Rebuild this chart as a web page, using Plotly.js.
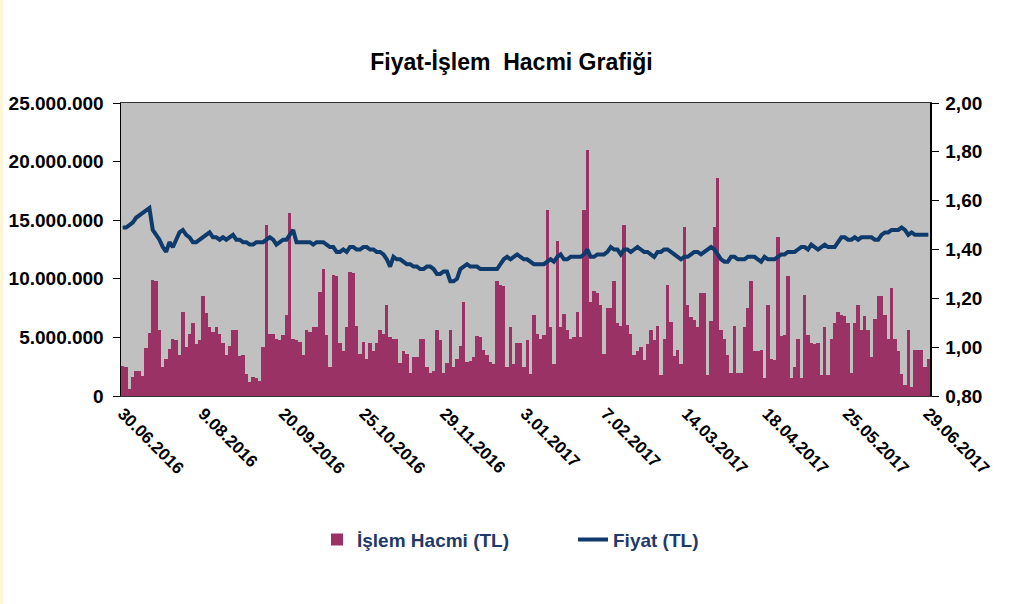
<!DOCTYPE html>
<html>
<head>
<meta charset="utf-8">
<script src="https://cdn.plot.ly/plotly-3.0.1.min.js"></script>
<style>html,body{margin:0;padding:0;background:#fff}#chart{width:1023px;height:604px}</style>
</head>
<body>
<div id="chart"></div>
<script>
// Daily trading volume (million TL)
const volumeMillionTL = [
  2.6,2.5,0.6,1.6,2.1,2.1,1.7,4.1,5.4,9.9,9.8,5.6,2.5,3.2,4.0,4.9,4.8,3.5,7.2,4.2,5.3,6.2,4.4,4.8,8.5,7.1,5.9,5.5,
  5.9,5.3,4.5,3.5,4.3,5.6,5.6,3.4,3.5,1.9,1.2,1.6,1.5,1.3,4.2,14.6,5.3,5.3,4.9,4.8,5.2,6.9,15.6,4.9,4.8,4.6,3.5,5.6,5.5,5.9,
  5.9,8.9,10.8,5.2,2.5,10.3,10.2,4.5,3.8,5.9,10.6,10.5,6.0,3.6,4.6,3.2,4.5,3.8,4.5,5.6,5.3,7.8,5.0,4.9,4.9,2.8,3.8,3.6,2.0,3.3,
  3.3,4.9,4.9,2.5,2.0,2.1,5.6,4.8,2.0,2.8,5.6,2.5,3.2,4.3,8.0,2.9,3.0,3.3,5.1,5.0,3.9,3.5,2.9,2.7,9.8,9.5,9.4,2.5,5.9,2.7,
  4.5,4.5,2.5,4.8,1.9,6.9,5.3,4.9,5.2,15.9,5.9,2.7,13.2,5.9,7.0,5.6,4.9,5.0,7.2,5.0,15.9,21.0,8.0,9.0,8.8,7.8,3.6,7.5,7.5,9.8,
  6.2,6.0,14.6,6.1,5.3,3.5,3.8,4.2,3.1,4.4,5.6,4.8,6.0,1.8,4.9,9.5,6.3,3.4,3.9,2.7,14.4,7.8,6.7,6.5,5.9,8.8,8.8,1.8,6.4,14.4,
  18.6,5.6,4.9,3.5,2.0,6.0,2.0,2.0,5.9,7.5,9.8,3.8,3.8,3.9,1.5,7.8,3.2,3.1,13.6,5.1,5.2,10.2,1.5,2.5,4.9,1.5,8.6,5.2,4.5,4.4,
  4.5,1.8,5.9,1.8,4.9,6.2,7.2,6.9,6.8,6.2,2.0,6.2,7.8,5.6,6.8,5.6,3.3,6.6,8.5,8.5,6.9,4.9,9.2,4.9,3.8,1.9,0.9,5.6,0.8,3.9,3.9,3.9,2.5,3.2
];
// Daily closing price (TL)
const priceTL = [
  1.49,1.49,1.50,1.51,1.53,1.54,1.55,1.56,1.57,1.48,1.46,1.44,1.41,1.39,1.43,1.41,1.44,1.47,1.48,1.46,1.45,1.43,1.43,1.44,1.45,1.46,1.47,1.45,
  1.45,1.44,1.45,1.44,1.45,1.46,1.44,1.44,1.43,1.43,1.42,1.42,1.43,1.43,1.43,1.44,1.45,1.44,1.42,1.43,1.44,1.44,1.46,1.48,1.43,1.43,1.43,1.43,1.43,1.42,
  1.43,1.43,1.43,1.42,1.41,1.41,1.39,1.39,1.40,1.39,1.41,1.41,1.40,1.40,1.41,1.41,1.40,1.40,1.39,1.39,1.38,1.36,1.33,1.37,1.36,1.36,1.35,1.34,1.34,1.33,
  1.33,1.32,1.32,1.33,1.33,1.32,1.30,1.30,1.31,1.31,1.27,1.27,1.28,1.32,1.33,1.34,1.33,1.33,1.33,1.32,1.32,1.32,1.32,1.32,1.32,1.34,1.36,1.37,1.36,1.37,
  1.38,1.37,1.36,1.36,1.35,1.34,1.34,1.34,1.34,1.35,1.36,1.35,1.37,1.38,1.36,1.36,1.37,1.37,1.37,1.37,1.38,1.40,1.37,1.37,1.38,1.38,1.38,1.39,1.41,1.40,
  1.40,1.38,1.40,1.40,1.39,1.40,1.41,1.40,1.39,1.39,1.38,1.37,1.39,1.39,1.40,1.40,1.39,1.38,1.37,1.36,1.37,1.37,1.38,1.39,1.39,1.38,1.39,1.40,1.41,1.40,
  1.38,1.36,1.35,1.35,1.37,1.37,1.36,1.36,1.36,1.37,1.37,1.37,1.36,1.35,1.37,1.36,1.36,1.36,1.37,1.38,1.38,1.39,1.39,1.39,1.40,1.41,1.41,1.40,1.42,1.41,
  1.40,1.41,1.42,1.41,1.41,1.41,1.43,1.45,1.45,1.44,1.44,1.45,1.44,1.45,1.45,1.45,1.45,1.44,1.44,1.46,1.47,1.47,1.48,1.48,1.48,1.49,1.48,1.46,1.47,1.46,1.46,1.46,1.46,1.46
];
const dateTickLabels = ['30.06.2016','9.08.2016','20.09.2016','25.10.2016','29.11.2016','3.01.2017','7.02.2017','14.03.2017','18.04.2017','25.05.2017','29.06.2017'];

const N = volumeMillionTL.length;
const xIdx = volumeMillionTL.map((_, i) => i);
const tickPos = dateTickLabels.map((_, k) => k * (N - 1) / (dateTickLabels.length - 1));

const traces = [
  {
    type: 'bar', name: 'İşlem Hacmi (TL)', x: xIdx,
    y: volumeMillionTL.map(v => v * 1e6),
    marker: {color: '#9B3265', line: {width: 0}},
    hoverinfo: 'skip'
  },
  {
    type: 'scatter', mode: 'lines', name: 'Fiyat (TL)', x: xIdx, y: priceTL, yaxis: 'y2',
    line: {color: '#0E3A6C', width: 4},
    hoverinfo: 'skip'
  }
];

const tickFont = {family: 'Liberation Sans, Arial, sans-serif', size: 19, color: '#000', weight: 'bold'};

const layout = {
  width: 1023, height: 604,
  margin: {l: 121, r: 93, t: 103, b: 208, pad: 0},
  paper_bgcolor: '#ffffff', plot_bgcolor: '#C0C0C0',
  separators: ',.',
  bargap: 0,
  showlegend: true,
  hovermode: false,
  title: {
    text: 'Fiyat-İşlem  Hacmi Grafiği', xref: 'container', x: 0.5, xanchor: 'center',
    yref: 'container', y: 1 - 62 / 604, yanchor: 'middle',
    font: {family: 'Liberation Sans, Arial, sans-serif', size: 23, color: '#000', weight: 'bold'}
  },
  xaxis: {
    range: [-0.5, N - 0.5], tickmode: 'array', tickvals: tickPos, ticktext: dateTickLabels,
    tickangle: 45, ticks: '', showgrid: false, zeroline: false,
    showline: true, linecolor: '#333', linewidth: 1, mirror: true,
    tickfont: {family: 'Liberation Sans, Arial, sans-serif', size: 17, color: '#000', weight: 'bold'}
  },
  yaxis: {
    range: [0, 25e6], dtick: 5e6, tick0: 0, tickformat: ',d',
    ticks: 'outside', ticklen: 7, tickcolor: '#000', tickwidth: 1,
    showline: true, linecolor: '#000', linewidth: 1.5,
    showgrid: false, zeroline: false, tickfont: tickFont, ticklabelstandoff: 5
  },
  yaxis2: {
    overlaying: 'y', side: 'right', range: [0.8, 2.0], dtick: 0.2, tick0: 0.8, tickformat: '.2f',
    ticks: 'outside', ticklen: 7, tickcolor: '#000', tickwidth: 1,
    showline: true, linecolor: '#000', linewidth: 1.5,
    showgrid: false, zeroline: false, tickfont: tickFont, ticklabelstandoff: 3
  },
  legend: {
    orientation: 'h', x: (317 - 121) / 809, xanchor: 'left', y: -0.49, yanchor: 'middle',
    bgcolor: 'rgba(0,0,0,0)', traceorder: 'normal', entrywidth: 211, entrywidthmode: 'pixels',
    font: {family: 'Liberation Sans, Arial, sans-serif', size: 19, color: '#1F3A68', weight: 'bold'}
  },
  shapes: [
    {type: 'rect', xref: 'paper', yref: 'paper', x0: -121 / 809, x1: -118 / 809, y0: -208 / 293, y1: 1 + 103 / 293,
     fillcolor: '#FFF6D8', line: {width: 0}, layer: 'below'}
  ]
};

Plotly.newPlot('chart', traces, layout, {displayModeBar: false, staticPlot: true});
</script>
</body>
</html>
